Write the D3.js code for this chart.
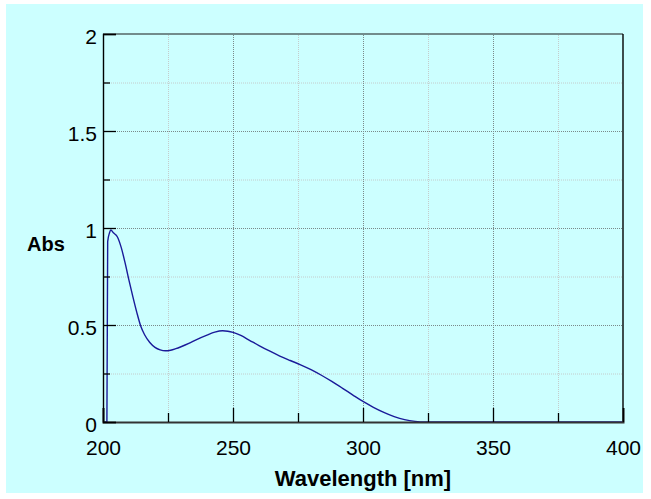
<!DOCTYPE html>
<html>
<head>
<meta charset="utf-8">
<title>Absorbance spectrum</title>
<script src="https://d3js.org/d3.v7.min.js"></script>
<style>
  body { margin: 0; background: #fff; }
  svg { display: block; font-family: "Liberation Sans", Arial, sans-serif; }
</style>
</head>
<body>
<svg id="chart"></svg>
<script>
// spectrum
const wavelength = [200, 201.5, 201.8, 202.5, 203, 204, 205.5, 207, 208.5, 210, 211.5, 213, 214.5, 216, 218, 220, 222, 224, 226, 228, 230, 233, 236, 240, 243, 246, 248, 250, 253, 256.5, 260, 264, 268, 272, 276, 280, 284, 288, 292, 296, 300, 304, 308, 312, 316, 320, 324, 400];
const absorbance = [0, 0, 0.93, 0.975, 0.99, 0.975, 0.955, 0.9, 0.82, 0.73, 0.645, 0.565, 0.495, 0.45, 0.41, 0.385, 0.372, 0.367, 0.37, 0.378, 0.388, 0.405, 0.425, 0.448, 0.463, 0.47, 0.468, 0.462, 0.446, 0.42, 0.394, 0.366, 0.34, 0.317, 0.295, 0.27, 0.241, 0.209, 0.175, 0.14, 0.106, 0.076, 0.05, 0.028, 0.012, 0.003, 0, 0];

const xMajor = [200, 250, 300, 350, 400];
const xMinor = [225, 275, 325, 375];
const yMajor = [0, 0.5, 1, 1.5, 2];
const yMinor = [0.25, 0.75, 1.25, 1.75];

const width = 651, height = 499;
const margin = { top: 34, right: 28, bottom: 77, left: 103 };
const innerW = width - margin.left - margin.right;
const innerH = height - margin.top - margin.bottom;

const svg = d3.select("#chart").attr("width", width).attr("height", height);

// cyan panel
svg.append("rect")
    .attr("x", 6).attr("y", 4)
    .attr("width", 637).attr("height", 489)
    .attr("fill", "#ccffff");

const x = d3.scaleLinear().domain([200, 400]).range([0, innerW]);
const y = d3.scaleLinear().domain([0, 2]).range([innerH, 0]);

const g = svg.append("g").attr("transform", `translate(${margin.left},${margin.top})`);

// grid lines
function grid(axis, vals, color) {
    const a = g.append("g").attr("class", "grid");
    a.call(axis.tickValues(vals).tickFormat(""));
    a.select(".domain").remove();
    a.selectAll("line").attr("stroke", color).attr("stroke-dasharray", "1,1");
    return a;
}
grid(d3.axisBottom(x).tickSize(-innerH), xMinor, "#c4cccc").attr("transform", `translate(0,${innerH})`);
grid(d3.axisLeft(y).tickSize(-innerW), yMinor, "#c4cccc");
grid(d3.axisBottom(x).tickSize(-innerH), [250, 300, 350], "#7a8a8a").attr("transform", `translate(0,${innerH})`);
grid(d3.axisLeft(y).tickSize(-innerW), [0.5, 1, 1.5], "#7a8a8a");

// spectrum
const pts = wavelength.map((w, i) => [w, absorbance[i]]);
const line = d3.line()
    .x(d => x(d[0]))
    .y(d => y(d[1]))
    .curve(d3.curveMonotoneX);
g.append("path")
    .datum(pts)
    .attr("fill", "none")
    .attr("stroke", "#1a1a99")
    .attr("stroke-width", 1.4)
    .attr("d", line);

// frame
g.append("line").attr("x1", 0).attr("x2", innerW).attr("y1", 0).attr("y2", 0)
    .attr("stroke", "#556666").attr("stroke-width", 1.6);
g.append("line").attr("x1", innerW).attr("x2", innerW).attr("y1", 0).attr("y2", innerH)
    .attr("stroke", "#000").attr("stroke-width", 1.4);

// x axis, ticks pointing inward
const xAxis = g.append("g").attr("transform", `translate(0,${innerH})`)
    .call(d3.axisBottom(x).tickValues(xMajor).tickSize(-14).tickPadding(18).tickFormat(d3.format("d")));
xAxis.select(".domain").attr("stroke", "#333").attr("stroke-width", 2);
xAxis.selectAll("line").attr("stroke", "#000").attr("stroke-width", 1.3);
xAxis.selectAll("text").attr("font-size", "21px").attr("fill", "#000")
    .attr("font-family", "'Liberation Sans', Arial, sans-serif");
g.append("g").attr("transform", `translate(0,${innerH})`)
    .call(d3.axisBottom(x).tickValues(xMinor).tickSize(-9).tickFormat(""))
    .call(a => a.select(".domain").remove())
    .selectAll("line").attr("stroke", "#000").attr("stroke-width", 1.3);

// y axis
const yAxis = g.append("g")
    .call(d3.axisLeft(y).tickValues(yMajor).tickSize(-13).tickPadding(6).tickFormat(d => d));
yAxis.select(".domain").attr("stroke", "#000").attr("stroke-width", 1.4);
yAxis.selectAll("line").attr("stroke", "#000").attr("stroke-width", 1.3);
yAxis.selectAll("text").attr("font-size", "21px").attr("fill", "#000").attr("dy", "0.45em")
    .attr("font-family", "'Liberation Sans', Arial, sans-serif");
g.append("g")
    .call(d3.axisLeft(y).tickValues(yMinor).tickSize(-7).tickFormat(""))
    .call(a => a.select(".domain").remove())
    .selectAll("line").attr("stroke", "#000").attr("stroke-width", 1.3);

// axis titles
svg.append("text")
    .attr("x", margin.left + innerW / 2)
    .attr("y", 486)
    .attr("text-anchor", "middle")
    .attr("font-size", "22px")
    .attr("font-weight", "bold")
    .text("Wavelength [nm]");

svg.append("text")
    .attr("x", 27)
    .attr("y", 251)
    .attr("font-size", "20px")
    .attr("font-weight", "bold")
    .text("Abs");
</script>
</body>
</html>
